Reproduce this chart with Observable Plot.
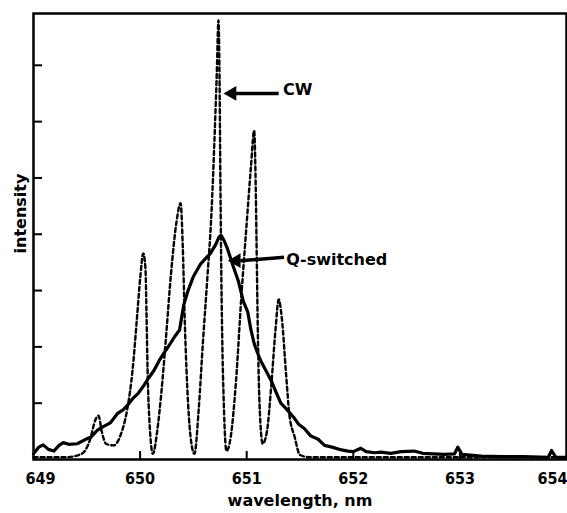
<!DOCTYPE html>
<html><head><meta charset="utf-8">
<script src="https://cdn.jsdelivr.net/npm/d3@7"></script>
<script src="https://cdn.jsdelivr.net/npm/@observablehq/plot@0.6"></script>
<style>html,body{margin:0;padding:0;background:#fff;} svg{display:block}</style>
</head><body><div id="chart"></div>
<script>
// CW (dashed) spectrum
const cwWavelength = [649.00,649.30,649.45,649.53,649.58,649.61,649.64,649.68,649.75,649.82,649.88,649.93,649.97,650.00,650.03,650.05,650.06,650.07,650.09,650.12,650.16,650.20,650.24,650.29,650.34,650.38,650.40,650.42,650.45,650.48,650.51,650.55,650.59,650.63,650.67,650.70,650.72,650.735,650.745,650.752,650.76,650.77,650.785,650.81,650.85,650.90,650.95,651.00,651.04,651.07,651.085,651.095,651.105,651.12,651.15,651.19,651.23,651.27,651.30,651.33,651.37,651.40,651.45,651.50,651.60,652.00,653.00,654.00];
const cwIntensity = [0.04,0.04,0.10,0.35,0.70,0.78,0.50,0.28,0.25,0.45,0.90,1.60,2.50,3.20,3.66,3.40,2.60,1.60,0.60,0.10,0.50,1.20,2.10,3.30,4.20,4.55,3.80,2.40,1.00,0.30,0.10,0.90,2.10,3.20,4.40,5.80,6.90,7.80,6.80,5.20,3.60,2.20,1.00,0.15,0.40,1.40,2.90,4.20,5.20,5.84,4.80,3.50,2.20,1.00,0.28,0.50,1.30,2.30,2.84,2.50,1.50,0.80,0.40,0.08,0.04,0.04,0.04,0.04];
// Q-switched (solid) spectrum
const qWavelength = [649.00,649.05,649.09,649.14,649.19,649.24,649.28,649.33,649.41,649.48,649.54,649.60,649.65,649.72,649.79,649.84,649.88,649.93,649.98,650.03,650.07,650.13,650.18,650.22,650.27,650.32,650.37,650.41,650.45,650.50,650.57,650.62,650.66,650.71,650.74,650.76,650.79,650.82,650.87,650.92,650.97,651.01,651.04,651.07,651.10,651.13,651.18,651.23,651.27,651.32,651.38,651.44,651.49,651.54,651.60,651.67,651.73,651.80,651.89,651.95,652.00,652.07,652.12,652.20,652.26,652.35,652.45,652.57,652.65,652.75,652.85,652.95,652.98,653.02,653.20,653.40,653.60,653.83,653.86,653.90,654.00];
const qIntensity = [0.10,0.22,0.26,0.18,0.15,0.25,0.30,0.27,0.28,0.35,0.40,0.52,0.58,0.65,0.82,0.88,0.96,1.08,1.17,1.30,1.42,1.58,1.76,1.88,2.02,2.17,2.30,2.75,3.00,3.25,3.48,3.58,3.66,3.82,3.95,3.98,3.88,3.74,3.45,3.18,2.80,2.62,2.30,2.06,1.90,1.76,1.58,1.40,1.22,1.00,0.88,0.75,0.62,0.55,0.42,0.36,0.25,0.22,0.17,0.15,0.14,0.20,0.14,0.12,0.13,0.11,0.14,0.15,0.11,0.10,0.09,0.10,0.22,0.09,0.06,0.05,0.05,0.04,0.16,0.04,0.04];

const xTickValues = [649, 650, 651, 652, 653, 654];
const yTickValues = [1, 2, 3, 4, 5, 6, 7];
const xLabel = "wavelength, nm";
const yLabel = "intensity";

const annotationLabels = ["CW", "Q-switched"];
const annotationTextX = [651.34, 651.37];
const annotationTextY = [6.57, 3.55];
const arrowTailX = [651.30, 651.35];
const arrowTailY = [6.50, 3.59];
const arrowHeadX = [650.90, 650.94];
const arrowHeadY = [6.50, 3.53];

const cw = cwWavelength.map((w, i) => ({w, v: cwIntensity[i]}));
const qs = qWavelength.map((w, i) => ({w, v: qIntensity[i]}));
const annotations = annotationLabels.map((t, i) => ({
  t, tx: annotationTextX[i], ty: annotationTextY[i],
  x1: arrowTailX[i], y1: arrowTailY[i], x2: arrowHeadX[i], y2: arrowHeadY[i]
}));
const innerTicks = xTickValues.slice(1, -1);

const chart = Plot.plot({
  width: 567, height: 513,
  marginLeft: 33, marginRight: 1, marginTop: 13, marginBottom: 54,
  x: {domain: [649, 654]},
  y: {domain: [0, 7.92]},
  style: {fontFamily: "DejaVu Sans", fontWeight: "bold", fontSize: "15px", color: "black", background: "white"},
  marks: [
    Plot.axisX(innerTicks, {tickSize: -8, strokeWidth: 2, tickFormat: () => "", label: null}),
    Plot.axisY(yTickValues, {tickSize: -9, strokeWidth: 2, tickFormat: () => "", label: null}),
    Plot.line(cw, {x: "w", y: "v", stroke: "black", strokeWidth: 2.4, strokeDasharray: "4,3", curve: "monotone-x"}),
    Plot.line(qs, {x: "w", y: "v", stroke: "black", strokeWidth: 3.2, strokeLinejoin: "round"}),
    Plot.frame({strokeWidth: 2.5}),
    Plot.text(innerTicks, {x: d => d, frameAnchor: "bottom", lineAnchor: "top", dy: 13, text: d => String(d), fontSize: 16, fontFamily: "DejaVu Sans Condensed"}),
    Plot.text(xTickValues.slice(0, 1), {x: d => d, frameAnchor: "bottom", lineAnchor: "top", textAnchor: "start", dx: -8, dy: 13, text: d => String(d), fontSize: 16, fontFamily: "DejaVu Sans Condensed"}),
    Plot.text(xTickValues.slice(-1), {x: d => d, frameAnchor: "bottom", lineAnchor: "top", textAnchor: "end", dx: 1, dy: 13, text: d => String(d), fontSize: 16, fontFamily: "DejaVu Sans Condensed"}),
    Plot.text([xLabel], {frameAnchor: "bottom", lineAnchor: "middle", textAnchor: "middle", dy: 41, text: d => d, fontSize: 16}),
    Plot.text([yLabel], {frameAnchor: "left", rotate: -90, textAnchor: "middle", dx: -13, dy: -23, text: d => d, fontSize: 16}),
    Plot.link(annotations, {x1: "x1", y1: "y1", x2: "x2", y2: "y2", stroke: "black", strokeWidth: 3.5}),
    Plot.dot(annotations, {x: "x2", y: "y2", symbol: "triangle", r: 5.5, fill: "black", stroke: "none", rotate: -90, dx: -4}),
    Plot.text(annotations, {x: "tx", y: "ty", text: "t", textAnchor: "start", fontSize: 16})
  ]
});
document.getElementById("chart").appendChild(chart);
</script>
</body></html>
